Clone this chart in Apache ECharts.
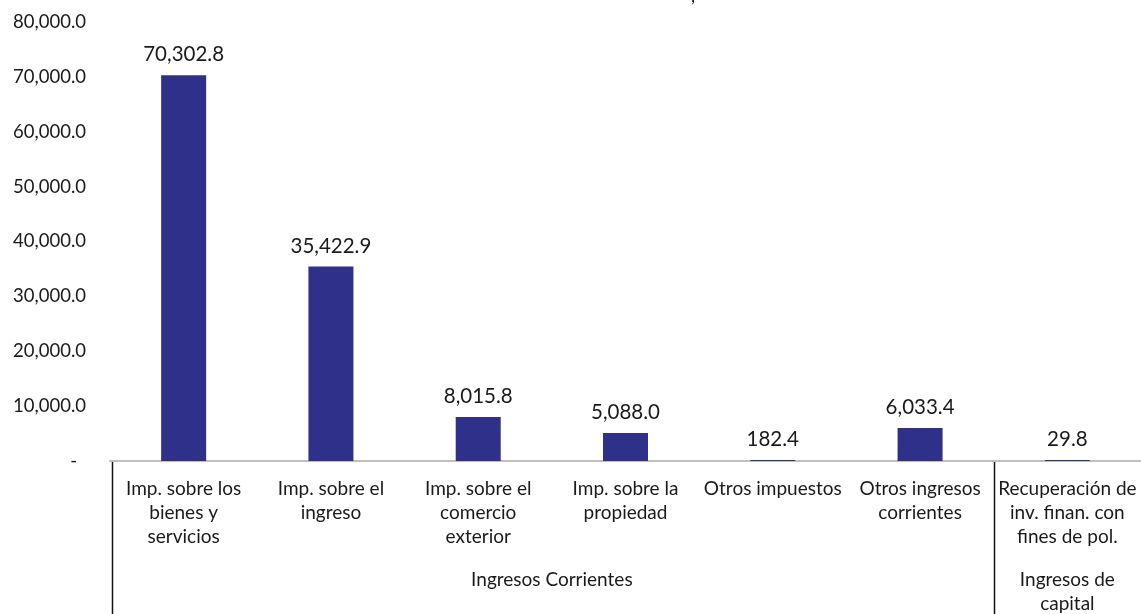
<!DOCTYPE html>
<html>
<head>
<meta charset="utf-8">
<script src="https://cdn.jsdelivr.net/npm/echarts@6/dist/echarts.min.js"></script>
<style>
html,body{margin:0;padding:0;background:#fff;}
#c{width:1141px;height:614px;}
</style>
</head>
<body>
<div id="c"></div>
<script>
var categories = [
  "Imp. sobre los\nbienes y\nservicios",
  "Imp. sobre el\ningreso",
  "Imp. sobre el\ncomercio\nexterior",
  "Imp. sobre la\npropiedad",
  "Otros impuestos",
  "Otros ingresos\ncorrientes",
  "Recuperación de\ninv. finan. con\nfines de pol."
];
var values = [70302.8, 35422.9, 8015.8, 5088.0, 182.4, 6033.4, 29.8];
var groups = [
  { name: "Ingresos Corrientes", from: 0, to: 5 },
  { name: "Ingresos de\ncapital", from: 6, to: 6 }
];
var yTicks = [0, 10000, 20000, 30000, 40000, 50000, 60000, 70000, 80000];

function fmt(v) {
  var s = v.toFixed(1);
  var parts = s.split('.');
  parts[0] = parts[0].replace(/\B(?=(\d{3})+(?!\d))/g, ',');
  return parts.join('.');
}

var FONT = 'Lato';
var TXT = '#1a1a1a';
var chart = echarts.init(document.getElementById('c'));
var option = {
  animation: false,
  backgroundColor: '#ffffff',
  grid: { left: 110, right: 0, top: 22, bottom: 153, containLabel: false },
  xAxis: {
    type: 'category',
    data: categories,
    axisLine: { show: true, lineStyle: { color: '#BFBFBF', width: 2 } },
    axisTick: { show: false },
    axisLabel: {
      interval: 0,
      margin: 16,
      color: TXT,
      fontFamily: FONT,
      fontSize: 19,
      lineHeight: 24,
      align: 'center'
    }
  },
  yAxis: {
    type: 'value',
    min: yTicks[0],
    max: yTicks[yTicks.length - 1],
    interval: 10000,
    axisLine: { show: false },
    axisTick: { show: false },
    splitLine: { show: false },
    axisLabel: {
      margin: 24,
      color: TXT,
      fontFamily: FONT,
      fontSize: 18.5,
      formatter: function (v) { return v === 0 ? '{d|-}' : fmt(v); },
      rich: { d: { fontFamily: FONT, fontSize: 18.5, color: TXT, padding: [0, 9, 0, 0] } }
    }
  },
  series: [{
    type: 'bar',
    data: values,
    barWidth: 45,
    barMinHeight: 1,
    itemStyle: { color: '#2E3089' },
    label: {
      show: true,
      position: 'top',
      distance: 10,
      color: TXT,
      fontFamily: FONT,
      fontSize: 20.5,
      formatter: function (p) { return fmt(p.value); }
    }
  }]
};
chart.setOption(option);

function drawGroups() {
  var half = (chart.convertToPixel({ xAxisIndex: 0 }, 1) - chart.convertToPixel({ xAxisIndex: 0 }, 0)) / 2;
  var y0 = chart.convertToPixel({ yAxisIndex: 0 }, 0);
  var elems = [];
  var bounds = [];
  groups.forEach(function (g, i) {
    var x1 = chart.convertToPixel({ xAxisIndex: 0 }, g.from) - half;
    var x2 = chart.convertToPixel({ xAxisIndex: 0 }, g.to) + half;
    bounds.push(x1);
    elems.push({
      type: 'text',
      x: (x1 + x2) / 2,
      y: 568,
      style: {
        text: g.name,
        fontFamily: FONT,
        fontSize: 19,
        lineHeight: 24,
        fill: TXT,
        align: 'center',
        verticalAlign: 'top'
      }
    });
  });
  bounds.forEach(function (bx, i) {
    var xx = Math.round(bx) + (i === 0 ? 2 : 0) + 0.5;
    elems.push({
      type: 'line',
      shape: { x1: xx, y1: y0, x2: xx, y2: 614 },
      style: { stroke: '#111', lineWidth: 1.5 }
    });
  });
  elems.push({
    type: 'text',
    x: 691,
    y: -13,
    style: { text: ',', fontFamily: FONT, fontSize: 18, fill: TXT }
  });
  chart.setOption({ graphic: elems });
}
drawGroups();
</script>
</body>
</html>
